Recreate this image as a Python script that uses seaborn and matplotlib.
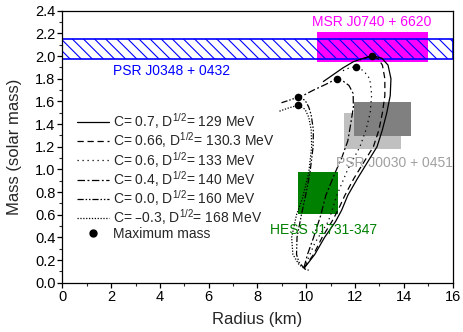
import matplotlib
matplotlib.use("Agg")
import matplotlib.pyplot as plt
import matplotlib.ticker as mticker
from matplotlib.lines import Line2D
import seaborn as sns
import pandas as pd

# mass-radius curves (R in km, M in solar masses)
r_c070 = [9.92, 10.35, 10.75, 11.2, 11.45, 11.7, 12.1, 12.5, 12.9, 13.12, 13.3, 13.44, 13.47, 13.35, 13.1, 12.71,
          12.34, 11.93, 11.5, 11.1, 10.7]
m_c070 = [0.13, 0.25, 0.40, 0.54, 0.64, 0.77, 0.92, 1.06, 1.2, 1.35, 1.5, 1.65, 1.8, 1.92, 1.98, 2.004,
          1.98, 1.95, 1.895, 1.835, 1.775]

r_c066 = [9.9, 10.3, 10.65, 11.05, 11.3, 11.58, 11.95, 12.35, 12.75, 12.98, 13.12, 13.22, 13.22, 13.12, 12.95, 12.7,
          12.45, 12.2]
m_c066 = [0.13, 0.25, 0.40, 0.54, 0.64, 0.77, 0.92, 1.06, 1.2, 1.35, 1.5, 1.65, 1.8, 1.92, 1.975, 2.0,
          1.985, 1.96]

r_c060 = [9.9, 10.05, 10.35, 10.9, 11.0, 11.25, 11.7, 12.2, 12.45, 12.62, 12.68, 12.6, 12.35, 12.02, 11.7, 11.4]
m_c060 = [0.13, 0.2, 0.35, 0.54, 0.6, 0.77, 1.0, 1.2, 1.35, 1.5, 1.66, 1.8, 1.87, 1.907, 1.89, 1.86]

r_c040 = [9.9, 10.05, 10.3, 10.6, 10.8, 11.18, 11.45, 11.7, 11.82, 11.93, 11.92, 11.75, 11.5, 11.25,
          10.8, 10.3, 9.9, 9.67]
m_c040 = [0.13, 0.25, 0.4, 0.6, 0.77, 0.97, 1.1, 1.25, 1.4, 1.55, 1.67, 1.74, 1.78, 1.80,
          1.75, 1.70, 1.655, 1.637]

r_c000 = [9.95, 9.7, 9.6, 9.62, 9.8, 10.0, 10.15, 10.28, 10.29, 10.2, 10.1, 9.95, 9.67, 9.3, 8.93]
m_c000 = [0.12, 0.18, 0.25, 0.4, 0.6, 0.8, 0.97, 1.2, 1.35, 1.48, 1.55, 1.61, 1.637, 1.61, 1.584]

r_cm03 = [10.1, 9.95, 9.7, 9.45, 9.4, 9.6, 9.85, 10.1, 10.22, 10.2, 10.1, 9.95, 9.67, 9.25, 8.86]
m_cm03 = [0.11, 0.12, 0.16, 0.25, 0.4, 0.6, 0.75, 0.97, 1.2, 1.35, 1.46, 1.53, 1.566, 1.54, 1.51]

max_r = [12.71, 12.02, 11.25, 9.67, 9.67]
max_m = [2.004, 1.907, 1.80, 1.637, 1.566]

curve_labels = [
    r"C= 0.7, D$^{1/2}$= 129 MeV",
    r"C= 0.66, D$^{1/2}$= 130.3 MeV",
    r"C= 0.6, D$^{1/2}$= 133 MeV",
    r"C= 0.4, D$^{1/2}$= 140 MeV",
    r"C= 0.0, D$^{1/2}$= 160 MeV",
    r"C= –0.3, D$^{1/2}$= 168 MeV",
]
curve_styles = ["-", (0, (5, 3)), (0, (1, 3)), (0, (6, 2, 1.5, 2)),
                (0, (5, 1.5, 1.2, 1.5, 1.2, 1.5)), (0, (1, 1.3))]

# observational constraints
psr0348_m = (1.97, 2.15)
msr0740_r = (10.45, 15.0)
msr0740_m = (1.95, 2.21)
psr0030_dark_r = (11.97, 14.29)
psr0030_dark_m = (1.298, 1.596)
psr0030_light_r = (11.53, 13.88)
psr0030_light_m = (1.18, 1.496)
hess_r = (9.65, 11.29)
hess_m = (0.604, 0.975)

sns.set_theme(style="ticks")
plt.rcParams["font.family"] = ["Liberation Sans", "DejaVu Sans"]
plt.rcParams["mathtext.default"] = "regular"
plt.rcParams["hatch.linewidth"] = 0.8
plt.rcParams["hatch.color"] = "blue"

fig = plt.figure(figsize=(4.63, 3.32), dpi=100)
ax = fig.add_axes([0.1346, 0.1485, 0.8431, 0.8193])


def box(rr, mm, color, z):
    ax.fill_between(list(rr), mm[0], mm[1], color=color, linewidth=0, zorder=z)


box(msr0740_r, msr0740_m, "#ff00ff", 1)
ax.axhspan(psr0348_m[0], psr0348_m[1], facecolor="none", edgecolor="blue",
           hatch="\\\\\\", linewidth=1.2, zorder=1.5)
box(psr0030_light_r, psr0030_light_m, "#c0c0c0", 1)
box(psr0030_dark_r, psr0030_dark_m, "#808080", 1.1)
box(hess_r, hess_m, "#008000", 1)

curves = [(r_c070, m_c070), (r_c066, m_c066), (r_c060, m_c060),
          (r_c040, m_c040), (r_c000, m_c000), (r_cm03, m_cm03)]
handles = []
for (rr, mm), lab, ls in zip(curves, curve_labels, curve_styles):
    df = pd.DataFrame({"R": rr, "M": mm})
    sns.lineplot(data=df, x="R", y="M", sort=False, estimator=None, color="black",
                 linewidth=0.9, linestyle=ls, ax=ax, zorder=3)
    handles.append(Line2D([], [], color="black", linewidth=0.9, linestyle=ls, label=lab))

sns.scatterplot(x=max_r, y=max_m, color="black", s=30, edgecolor="black", linewidth=0, ax=ax, zorder=4)
handles.append(Line2D([], [], color="black", marker="o", markersize=5, linestyle="none", label="Maximum mass"))

ax.text(12.7, 2.30, "MSR J0740 + 6620", color="#ff00ff", fontsize=10, ha="center", va="center")
ax.text(4.48, 1.87, "PSR J0348 + 0432", color="blue", fontsize=10, ha="center", va="center")
ax.text(13.6, 1.055, "PSR J0030 + 0451", color="#a0a0a0", fontsize=10, ha="center", va="center", zorder=5)
ax.text(10.7, 0.465, "HESS J1731-347", color="#008000", fontsize=10, ha="center", va="center", zorder=5)

ax.legend(handles=handles, loc="upper left", bbox_to_anchor=(0.038, 0.63), frameon=False,
          fontsize=10, handlelength=2.3, handletextpad=0.3, labelspacing=-0.05,
          borderaxespad=0, borderpad=0)

ax.set_xlim(0, 16)
ax.set_ylim(0, 2.4)
ax.xaxis.set_major_locator(mticker.MultipleLocator(2))
ax.xaxis.set_minor_locator(mticker.MultipleLocator(1))
ax.yaxis.set_major_locator(mticker.MultipleLocator(0.2))
ax.yaxis.set_minor_locator(mticker.MultipleLocator(0.1))
ax.yaxis.set_major_formatter(mticker.FormatStrFormatter("%.1f"))
ax.tick_params(which="major", direction="out", length=3.5, width=0.9, labelsize=10.5, pad=1.5, colors="black")
ax.tick_params(which="minor", direction="out", length=2, width=0.8)
for sp in ax.spines.values():
    sp.set_linewidth(0.9)
    sp.set_color("black")
ax.set_xlabel("Radius (km)", fontsize=12, labelpad=6)
ax.set_ylabel("Mass (solar mass)", fontsize=12, labelpad=9)

fig.savefig("out.png", dpi=100)
